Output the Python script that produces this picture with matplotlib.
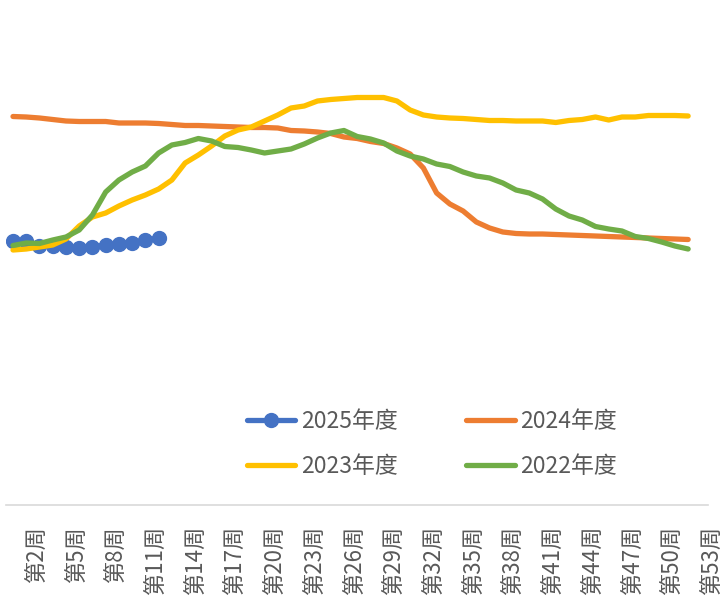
import numpy as np
from matplotlib import pyplot as plt
from matplotlib.transforms import ScaledTranslation

plt.rcParams['font.family'] = ['Noto Sans CJK SC', 'DejaVu Sans']

# weekly index values (arbitrary units)
weeks = list(range(1, 53))
y2025 = [52.8, 52.8, 51.8, 51.8, 51.6, 51.4, 51.6, 52.0, 52.2, 52.4, 53.0, 53.4]
y2024 = [77.7, 77.6, 77.4, 77.1, 76.8, 76.7, 76.7, 76.7, 76.4, 76.4, 76.4, 76.3, 76.1,
         75.9, 75.9, 75.8, 75.7, 75.6, 75.5, 75.5, 75.4, 74.9, 74.8, 74.6, 74.3, 73.6,
         73.3, 72.7, 72.3, 71.4, 70.2, 67.4, 62.4, 60.2, 58.8, 56.6, 55.4, 54.6, 54.3,
         54.2, 54.2, 54.1, 54.0, 53.9, 53.8, 53.7, 53.6, 53.5, 53.4, 53.3, 53.2, 53.1]
y2023 = [51.0, 51.2, 51.6, 52.0, 53.2, 55.8, 57.6, 58.4, 59.8, 61.0, 62.0, 63.2, 65.0,
         68.4, 70.0, 71.8, 73.8, 75.0, 75.6, 76.8, 78.0, 79.4, 79.8, 80.8, 81.1, 81.3,
         81.5, 81.5, 81.5, 80.8, 79.0, 78.0, 77.6, 77.4, 77.3, 77.1, 76.9, 76.9, 76.8,
         76.8, 76.8, 76.5, 76.9, 77.1, 77.6, 77.0, 77.6, 77.6, 77.9, 77.9, 77.9, 77.8]
y2022 = [51.9, 52.4, 52.3, 53.0, 53.6, 55.0, 58.0, 62.6, 65.0, 66.6, 67.8, 70.4, 72.0,
         72.5, 73.3, 72.8, 71.7, 71.5, 71.0, 70.4, 70.8, 71.2, 72.2, 73.4, 74.4, 74.9,
         73.7, 73.2, 72.4, 70.8, 69.8, 69.2, 68.2, 67.7, 66.6, 65.8, 65.4, 64.4, 63.0,
         62.4, 61.2, 59.2, 57.8, 57.0, 55.7, 55.2, 54.8, 53.7, 53.3, 52.6, 51.8, 51.2]
tick_weeks = list(range(2, 54, 3))
tick_labels = [f"第{w}周" for w in tick_weeks]

fig = plt.figure(figsize=(7.2, 6.06), dpi=100)
ax = fig.add_axes([6.4 / 720, 101 / 606, 701.6 / 720, 505 / 606])

lw = 3.8
l25, = ax.plot(weeks[:len(y2025)], y2025, color='#4472C4', lw=lw, marker='o',
               markersize=10, solid_capstyle='round', label='2025年度')
l24, = ax.plot(weeks, y2024, color='#ED7D31', lw=lw, solid_capstyle='round',
               solid_joinstyle='round', label='2024年度')
l23, = ax.plot(weeks, y2023, color='#FFC000', lw=lw, solid_capstyle='round',
               solid_joinstyle='round', label='2023年度')
l22, = ax.plot(weeks, y2022, color='#70AD47', lw=lw, solid_capstyle='round',
               solid_joinstyle='round', label='2022年度')

ax.set_xlim(0.5, 53.5)
ax.set_ylim(0, 101)
ax.set_yticks([])
ax.set_xticks(tick_weeks)
ax.set_xticklabels(tick_labels, rotation=90, fontsize=16, color='#595959', va='top')
ax.tick_params(axis='x', length=0, pad=15)
# nudge labels right so they sit on their category like the original
shift = ScaledTranslation(10 / 100, 0, fig.dpi_scale_trans)
for lab in ax.get_xticklabels():
    lab.set_transform(lab.get_transform() + shift)
for s in ['top', 'left', 'right']:
    ax.spines[s].set_visible(False)
ax.spines['bottom'].set_color('#D9D9D9')
ax.spines['bottom'].set_linewidth(1.2)

# legend (2 columns, filled column-wise)
fig.legend([l25, l23, l24, l22], ['2025年度', '2023年度', '2024年度', '2022年度'],
           ncol=2, loc='center', bbox_to_anchor=(432 / 720, 1 - 444 / 606),
           frameon=False, fontsize=16.5, labelcolor='#595959', handlelength=2.1,
           handletextpad=0.25, columnspacing=3.0, labelspacing=1.0)

fig.savefig('out.png', dpi=100)
